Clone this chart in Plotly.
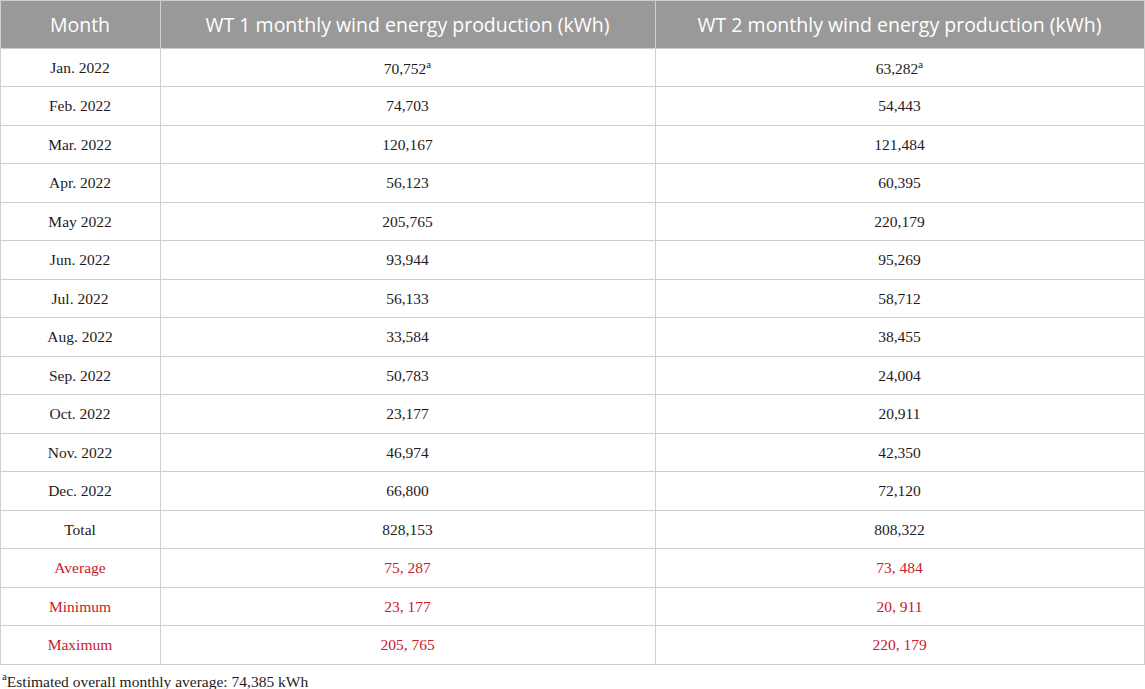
import plotly.graph_objects as go

months = ["Jan. 2022", "Feb. 2022", "Mar. 2022", "Apr. 2022", "May 2022", "Jun. 2022",
          "Jul. 2022", "Aug. 2022", "Sep. 2022", "Oct. 2022", "Nov. 2022", "Dec. 2022"]
wt1 = [70752, 74703, 120167, 56123, 205765, 93944, 56133, 33584, 50783, 23177, 46974, 66800]
wt2 = [63282, 54443, 121484, 60395, 220179, 95269, 58712, 38455, 24004, 20911, 42350, 72120]
total_label = "Total"
wt1_total = 828153
wt2_total = 808322
stat_labels = ["Average", "Minimum", "Maximum"]
wt1_stats = [75287, 23177, 205765]
wt2_stats = [73484, 20911, 220179]
headers = ["Month", "WT 1 monthly wind energy production (kWh)",
           "WT 2 monthly wind energy production (kWh)"]
estimated_flags = [True] + [False] * 11
footnote = "<sup>a</sup>Estimated overall monthly average: 74,385 kWh"


def fmt(v, flag=False):
    s = f"{v:,}"
    return s + ("<sup>a</sup>" if flag else "")


def fmt_stat(v):
    return f"{v:,}".replace(",", ", ")


col0 = months + [total_label] + stat_labels
col1 = [fmt(v, f) for v, f in zip(wt1, estimated_flags)] + [fmt(wt1_total)] + [fmt_stat(v) for v in wt1_stats]
col2 = [fmt(v, f) for v, f in zip(wt2, estimated_flags)] + [fmt(wt2_total)] + [fmt_stat(v) for v in wt2_stats]

dark = "#1f1b1c"
red = "#c8202a"
colors = [dark] * (len(months) + 1) + [red] * len(stat_labels)

fig = go.Figure(go.Table(
    columnwidth=[160, 495, 489],
    header=dict(
        values=headers,
        fill_color="#999999",
        line=dict(color="#cfcfcf", width=1),
        font=dict(family="Open Sans", size=19.5, color="white"),
        align="center",
        height=48,
    ),
    cells=dict(
        values=[col0, col1, col2],
        fill_color="white",
        line=dict(color="#cfcfcf", width=1),
        font=dict(family="Liberation Serif", size=15.5, color=[colors, colors, colors]),
        align="center",
        height=38.5,
    ),
    domain=dict(x=[0, 1], y=[0.02, 1]),
))

fig.add_annotation(
    text=footnote, x=0, y=(689 - 680) / 689, xref="paper", yref="paper",
    xanchor="left", yanchor="middle", showarrow=False,
    font=dict(family="Liberation Serif", size=15.5, color=dark),
)

fig.update_layout(
    width=1145, height=689,
    margin=dict(l=0, r=1, t=0, b=0),
    paper_bgcolor="white", plot_bgcolor="white",
)

post = """
document.body.style.margin = '0px';
var gd = document.getElementById('{plot_id}');
gd.querySelectorAll('.column-cell').forEach(function(cell){
  var r = cell.querySelector('.cell-rect');
  var t = cell.querySelector('.cell-text');
  if (!r || !t) return;
  var rb = r.getBoundingClientRect(), tb = t.getBoundingClientRect();
  if (!rb.height || !tb.height) return;
  var d = (rb.top + rb.height / 2) - (tb.top + tb.height / 2);
  var base = t.getAttribute('transform') || '';
  t.setAttribute('transform', 'translate(0,' + d.toFixed(2) + ') ' + base);
});
"""

fig.write_html("out.html", post_script=post, config={"displayModeBar": False})
